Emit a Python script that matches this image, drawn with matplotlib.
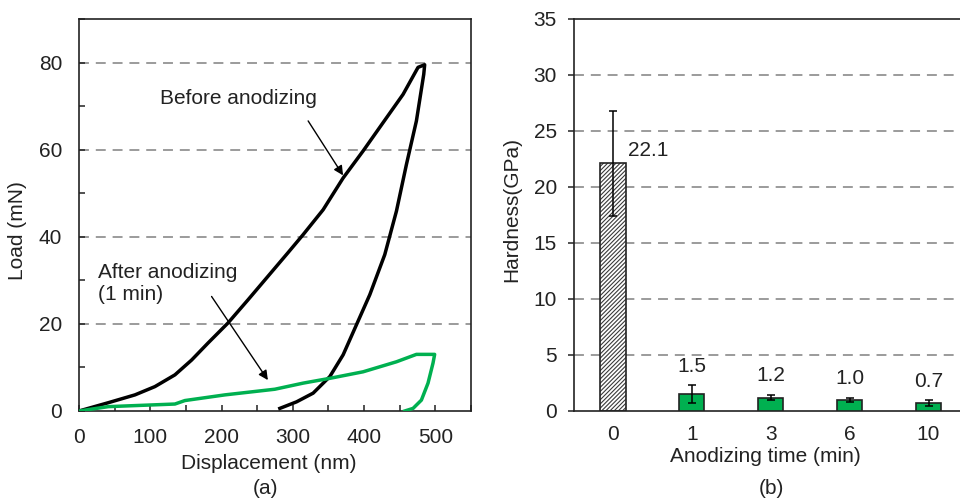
import matplotlib

matplotlib.use("Agg")
import matplotlib.pyplot as plt
from matplotlib.ticker import MultipleLocator

plt.rcParams["font.family"] = ["Liberation Sans", "DejaVu Sans"]
plt.rcParams["font.size"] = 15
plt.rcParams["hatch.linewidth"] = 0.8

# (a) load-displacement curves
before_disp = [0, 41, 78.5, 106.5, 134.6, 158, 181, 209, 237, 265, 293, 314.5, 342.5,
               370.6, 398.6, 426.6, 454.7, 475.7, 485,
               483.7, 473.4, 459.4, 445.4, 429, 408, 389.3, 370.6, 351.9, 328.5, 305.2, 281.8]
before_load = [0, 1.9, 3.7, 5.6, 8.3, 11.7, 15.6, 20.2, 25.5, 30.9, 36.3, 40.5, 46.2,
               53.5, 59.7, 66.2, 72.7, 78.9, 79.5,
               77.3, 66.6, 56.6, 45.9, 35.9, 26.7, 19.8, 12.9, 7.9, 4.1, 2.1, 0.6]
after_disp = [0, 41, 134.6, 148.6, 204.7, 274.8, 314.5, 351.9, 398.6, 445.4, 473.4, 499,
              496.7, 489.7, 480.4, 468.7, 457]
after_load = [0, 1.0, 1.6, 2.4, 3.7, 5.0, 6.4, 7.5, 9.0, 11.3, 13.0, 13.0,
              11.0, 6.4, 2.5, 0.6, 0]

# (b) hardness vs anodizing time
times = ["0", "1", "3", "6", "10"]
hardness = [22.1, 1.5, 1.2, 1.0, 0.7]
hardness_err = [4.65, 0.78, 0.26, 0.2, 0.25]

GREEN = "#00B050"
INK = "#222222"
W, H = 960, 500

fig = plt.figure(figsize=(9.6, 5.0), dpi=100)
ax1 = fig.add_axes([79 / W, 89 / H, 392 / W, 392 / H])
ax2 = fig.add_axes([573.5 / W, 89 / H, 394.5 / W, 392 / H])

grid_kw = dict(color="#808080", linewidth=1.1, dashes=(6.5, 4.5))

# ---- panel (a)
for y in (20, 40, 60, 80):
    ax1.axhline(y, zorder=0, **grid_kw)
ax1.plot(before_disp, before_load, color="black", linewidth=2.5, zorder=3,
         solid_joinstyle="round")
ax1.plot(after_disp, after_load, color=GREEN, linewidth=2.5, zorder=3,
         solid_joinstyle="round")
ax1.set_xlim(0, 550)
ax1.set_ylim(0, 90)
ax1.xaxis.set_major_locator(MultipleLocator(100))
ax1.xaxis.set_minor_locator(MultipleLocator(50))
ax1.yaxis.set_major_locator(MultipleLocator(20))
ax1.yaxis.set_minor_locator(MultipleLocator(10))
ax1.tick_params(which="both", direction="in", length=4, width=1.1, color=INK,
                labelcolor=INK, labelsize=15)
ax1.tick_params(axis="x", which="major", pad=12)
ax1.tick_params(axis="y", which="major", pad=12)
ax1.set_xlabel("Displacement (nm)", color=INK)
ax1.set_ylabel("Load (mN)", color=INK)
ax1.xaxis.set_label_coords(0.483, -0.11)
ax1.yaxis.set_label_coords(-0.133, 0.46)

ax1.text(113.6, 71.8, "Before anodizing", ha="left", va="center", color=INK)
ax1.annotate("", xy=(370.5, 54.1), xytext=(321.5, 66.6),
             arrowprops=dict(arrowstyle="-|>", color="black", lw=1.0,
                             mutation_scale=14, shrinkA=0, shrinkB=0))
ax1.text(26, 29.2, "After anodizing\n(1 min)", ha="left", va="center",
         linespacing=1.2, color=INK)
ax1.annotate("", xy=(265, 7.1), xytext=(186, 26.3),
             arrowprops=dict(arrowstyle="-|>", color="black", lw=1.0,
                             mutation_scale=14, shrinkA=0, shrinkB=0))

# ---- panel (b)
for y in range(5, 35, 5):
    ax2.axhline(y, zorder=0, **grid_kw)
pos = list(range(len(times)))
bar_w = 0.32
ax2.bar(pos[0], hardness[0], width=bar_w, color="white", edgecolor="#3a3a3a",
        linewidth=0, hatch="////////", zorder=2)
ax2.bar(pos[0], hardness[0], width=bar_w, fill=False, edgecolor=INK,
        linewidth=1.2, zorder=3)
ax2.bar(pos[1:], hardness[1:], width=bar_w, color=GREEN, edgecolor=INK,
        linewidth=1.2, zorder=3)
ax2.errorbar(pos, hardness, yerr=hardness_err, fmt="none", ecolor="black",
             elinewidth=1.1, capsize=2.6, capthick=1.1, zorder=4)

ax2.text(pos[0] + bar_w / 2 + 0.03, hardness[0] + 1.2, f"{hardness[0]:.1f}",
         ha="left", va="center", color=INK)
for p, v, e in zip(pos[1:], hardness[1:], hardness_err[1:]):
    ax2.text(p, v + e + 1.7, f"{v:.1f}", ha="center", va="center", color=INK)

ax2.set_xlim(-0.5, len(times) - 0.5)
ax2.set_ylim(0, 35)
ax2.set_xticks(pos)
ax2.set_xticklabels(times)
ax2.yaxis.set_major_locator(MultipleLocator(5))
ax2.tick_params(axis="y", direction="out", length=4, width=1.1, color=INK,
                labelcolor=INK, labelsize=15, pad=8)
ax2.tick_params(axis="x", length=0, labelcolor=INK, labelsize=15, pad=10)
ax2.set_xlabel("Anodizing time (min)", color=INK)
ax2.set_ylabel("Hardness(GPa)", color=INK)
ax2.xaxis.set_label_coords(0.487, -0.091)
ax2.yaxis.set_label_coords(-0.133, 0.515)

for ax in (ax1, ax2):
    for s in ax.spines.values():
        s.set_linewidth(1.2)
        s.set_color(INK)

fig.text(265 / W, 1 - 488 / H, "(a)", ha="center", va="center", color=INK)
fig.text(771.7 / W, 1 - 488.3 / H, "(b)", ha="center", va="center", color=INK)

fig.savefig("out.png", dpi=100)
